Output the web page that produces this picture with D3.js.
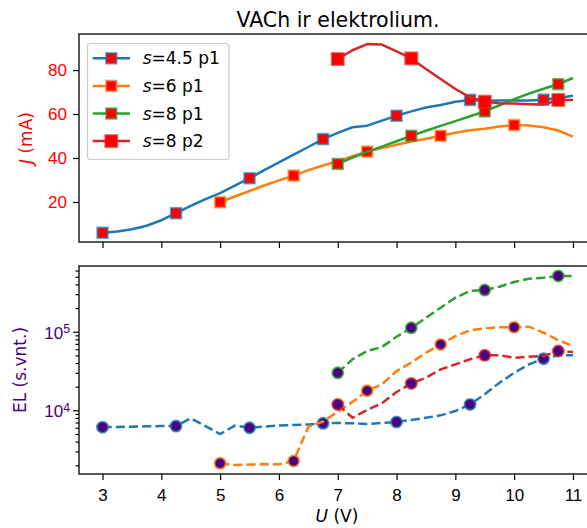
<!DOCTYPE html>
<html><head><meta charset="utf-8">
<script src="https://cdn.jsdelivr.net/npm/d3@7"></script>
<style>body{margin:0;background:#fff}svg{display:block;font-family:"DejaVu Sans",sans-serif}</style>
</head><body><svg id="c" width="587" height="528"></svg>
<script>
// ---- data ----
const uBlue = [3,3.25,3.5,3.75,4,4.25,4.5,4.75,5,5.25,5.5,5.75,6,6.25,6.5,6.75,7,7.25,7.5,7.75,8,8.25,8.5,8.75,9,9.25,9.5,9.75,10,10.25,10.5,10.75,11];
const uOrange = [5,5.25,5.5,5.75,6,6.25,6.5,6.75,7,7.25,7.5,7.75,8,8.25,8.5,8.75,9,9.25,9.5,9.75,10,10.25,10.5,10.75,11];
const uGreen = [7,7.25,7.5,7.75,8,8.25,8.5,8.75,9,9.25,9.5,9.75,10,10.25,10.5,10.75,11];
const uRed = [7,7.25,7.5,7.75,8,8.25,8.5,8.75,9,9.25,9.5,9.75,10,10.25,10.5,10.75,11];

const jBlue = [6.0,6.6,7.6,9.2,11.7,14.9,18.2,21.3,24.0,27.4,30.8,34.5,38.0,41.5,45.0,48.6,51.4,54.0,54.7,57.0,59.2,61.2,63.0,64.1,65.6,66.4,66.0,66.2,66.2,66.2,66.5,67.3,68.3];
const jOrange = [19.9,22.5,25.0,27.5,29.8,32.0,34.5,36.6,38.6,40.8,42.9,44.5,46.0,47.5,48.8,50.1,51.5,52.6,53.3,54.3,55.0,54.8,54.0,52.5,49.7];
const jGreen = [37.3,40.2,42.8,45.2,47.6,50.1,52.4,54.6,56.8,59.0,61.2,64.0,66.8,69.3,71.5,73.6,76.4];
const jRed = [85.0,89.0,91.8,91.6,88.5,85.3,80.5,75.9,71.4,67.6,65.6,64.9,64.8,64.5,64.3,66.4,66.4];

const elBlue = [6100,6150,6200,6250,6300,6300,7900,6300,5000,6400,6000,6200,6400,6500,6600,6840,6900,6840,6720,6900,7100,7540,8050,8630,9800,11900,16000,22400,30000,38500,45400,50100,50100];
const elOrange = [2120,2010,2040,2070,2060,2265,6200,7200,9600,12800,17800,21400,31600,40400,54000,69000,88000,104000,110000,114000,114000,116000,97000,78000,65800];
const elGreen = [30000,44600,56800,63800,86300,112000,150000,202000,271000,330000,339000,374000,429000,472000,486000,512000,512000];
const elRed = [11900,8050,10100,12300,17100,22000,26000,33200,38400,44600,50100,50100,46700,48000,49100,56800,55200];

const seriesNames = ["4.5 p1","6 p1","8 p1","8 p2"];
const colors = ["#1f77b4","#ff7f0e","#2ca02c","#d62728"];
const xTicks = [3,4,5,6,7,8,9,10,11];
const jTicks = [20,40,60,80];
const elTicks = [1e4,1e5];

// ---- layout ----
const svg = d3.select("#c");
const L = 79, R = 596.5;
const x = d3.scaleLinear().domain([2.6, 11.4]).range([L, R]);
const yT = d3.scaleLinear().domain([1.8, 96.4]).range([242, 34]);
const yB = d3.scaleLog().domain([Math.pow(10,3.19), Math.pow(10,5.836)]).range([474, 266]);
const FS = 17;

const topSeries = [
  {u:uBlue, v:jBlue, c:colors[0], ms:10.5},
  {u:uOrange, v:jOrange, c:colors[1], ms:10.5},
  {u:uGreen, v:jGreen, c:colors[2], ms:10.5},
  {u:uRed, v:jRed, c:colors[3], ms:12}
];
const botSeries = [
  {u:uBlue, v:elBlue, c:colors[0]},
  {u:uOrange, v:elOrange, c:colors[1]},
  {u:uGreen, v:elGreen, c:colors[2]},
  {u:uRed, v:elRed, c:colors[3]}
];

// top panel series
const gT = svg.append("g");
topSeries.forEach(s => {
  const pts = s.u.map((u,i)=>[u,s.v[i]]);
  gT.append("path").attr("d", d3.line().x(d=>x(d[0])).y(d=>yT(d[1]))(pts))
    .attr("fill","none").attr("stroke",s.c).attr("stroke-width",2.5).attr("stroke-linejoin","round");
  pts.filter((d,i)=>i%5===0).forEach(d=>{
    gT.append("rect").attr("x",x(d[0])-s.ms/2).attr("y",yT(d[1])-s.ms/2)
      .attr("width",s.ms).attr("height",s.ms).attr("fill","#ff0000")
      .attr("stroke",s.c).attr("stroke-opacity",0.65).attr("stroke-width",2);
  });
});

// bottom panel series
const gB = svg.append("g");
botSeries.forEach(s => {
  const pts = s.u.map((u,i)=>[u,s.v[i]]);
  gB.append("path").attr("d", d3.line().x(d=>x(d[0])).y(d=>yB(d[1]))(pts))
    .attr("fill","none").attr("stroke",s.c).attr("stroke-width",2.5)
    .attr("stroke-dasharray","9.2,4");
  pts.filter((d,i)=>i%5===0).forEach(d=>{
    gB.append("circle").attr("cx",x(d[0])).attr("cy",yB(d[1])).attr("r",5.5)
      .attr("fill","#4b0082").attr("stroke",s.c).attr("stroke-opacity",0.75).attr("stroke-width",2);
  });
});

// frames
[[34,242],[266,474]].forEach(([t,b])=>{
  svg.append("rect").attr("x",L).attr("y",t).attr("width",R-L).attr("height",b-t)
    .attr("fill","none").attr("stroke","#000").attr("stroke-width",1.3);
});

// x axes
svg.append("g").attr("transform","translate(0,242)")
  .call(d3.axisBottom(x).tickValues(xTicks).tickSize(6).tickFormat(""));
const xAxB = svg.append("g").attr("transform","translate(0,474)")
  .call(d3.axisBottom(x).tickValues(xTicks).tickSize(6).tickPadding(5).tickFormat(d3.format("d")));
xAxB.selectAll("text").attr("font-size",FS).attr("fill","#000").attr("dy","0.95em");

// y axis top
const yAxT = svg.append("g").attr("transform",`translate(${L},0)`)
  .call(d3.axisLeft(yT).tickValues(jTicks).tickSize(6).tickPadding(6));
yAxT.selectAll("text").attr("font-size",FS).attr("fill","#ff0000");

// y axis bottom (log) major + minor
const minor = [];
[1e3,1e4,1e5].forEach(dec=>{for(let k=2;k<=9;k++){const v=k*dec; if(v>=yB.domain()[0]&&v<=yB.domain()[1]) minor.push(v);}});
svg.append("g").attr("transform",`translate(${L},0)`)
  .call(d3.axisLeft(yB).tickValues(minor).tickSize(3.5).tickFormat(""));
const yAxB = svg.append("g").attr("transform",`translate(${L},0)`)
  .call(d3.axisLeft(yB).tickValues(elTicks).tickSize(6).tickPadding(6).tickFormat(""));
yAxB.selectAll(".tick").each(function(d){
  const t = d3.select(this).append("text").attr("x",-9).attr("dy","0.38em")
    .attr("text-anchor","end").attr("font-size",FS).attr("fill","#4b0082");
  t.append("tspan").text("10");
  t.append("tspan").attr("dy","-0.45em").attr("font-size",FS*0.72).text(Math.round(Math.log10(d)));
});

svg.selectAll(".domain").remove();
svg.selectAll(".tick line").attr("stroke","#000").attr("stroke-width",1.2);

// labels
svg.append("text").attr("x",338).attr("y",26.5).attr("text-anchor","middle")
  .attr("font-size",20.5).attr("fill","#000").text("VACh ir elektrolium.");
const jl = svg.append("text").attr("transform","translate(32,138) rotate(-90)")
  .attr("text-anchor","middle").attr("font-size",FS).attr("fill","#ff0000");
jl.append("tspan").attr("font-style","italic").text("J");
jl.append("tspan").text(" (mA)");
svg.append("text").attr("transform","translate(26,370) rotate(-90)")
  .attr("text-anchor","middle").attr("font-size",FS).attr("fill","#4b0082").text("EL (s.vnt.)");
const ul = svg.append("text").attr("x",337).attr("y",522).attr("text-anchor","middle")
  .attr("font-size",FS).attr("fill","#000");
ul.append("tspan").attr("font-style","italic").text("U");
ul.append("tspan").text(" (V)");

// legend
const lg = svg.append("g");
lg.append("rect").attr("x",87.5).attr("y",43.5).attr("width",141.5).attr("height",116)
  .attr("rx",3).attr("fill","#fff").attr("fill-opacity",0.8).attr("stroke","#cccccc").attr("stroke-width",1.2);
seriesNames.forEach((n,i)=>{
  const cy = 58.3 + i*27.6;
  lg.append("line").attr("x1",92.7).attr("x2",130).attr("y1",cy).attr("y2",cy)
    .attr("stroke",colors[i]).attr("stroke-width",2.5);
  const ms = topSeries[i].ms;
  lg.append("rect").attr("x",111.3-ms/2).attr("y",cy-ms/2).attr("width",ms).attr("height",ms)
    .attr("fill","#ff0000").attr("stroke",colors[i]).attr("stroke-opacity",0.65).attr("stroke-width",2);
  const t = lg.append("text").attr("x",142.7).attr("y",cy).attr("dy","0.36em")
    .attr("font-size",FS).attr("fill","#000");
  t.append("tspan").attr("font-style","italic").text("s");
  t.append("tspan").text("=" + n);
});
</script></body></html>
